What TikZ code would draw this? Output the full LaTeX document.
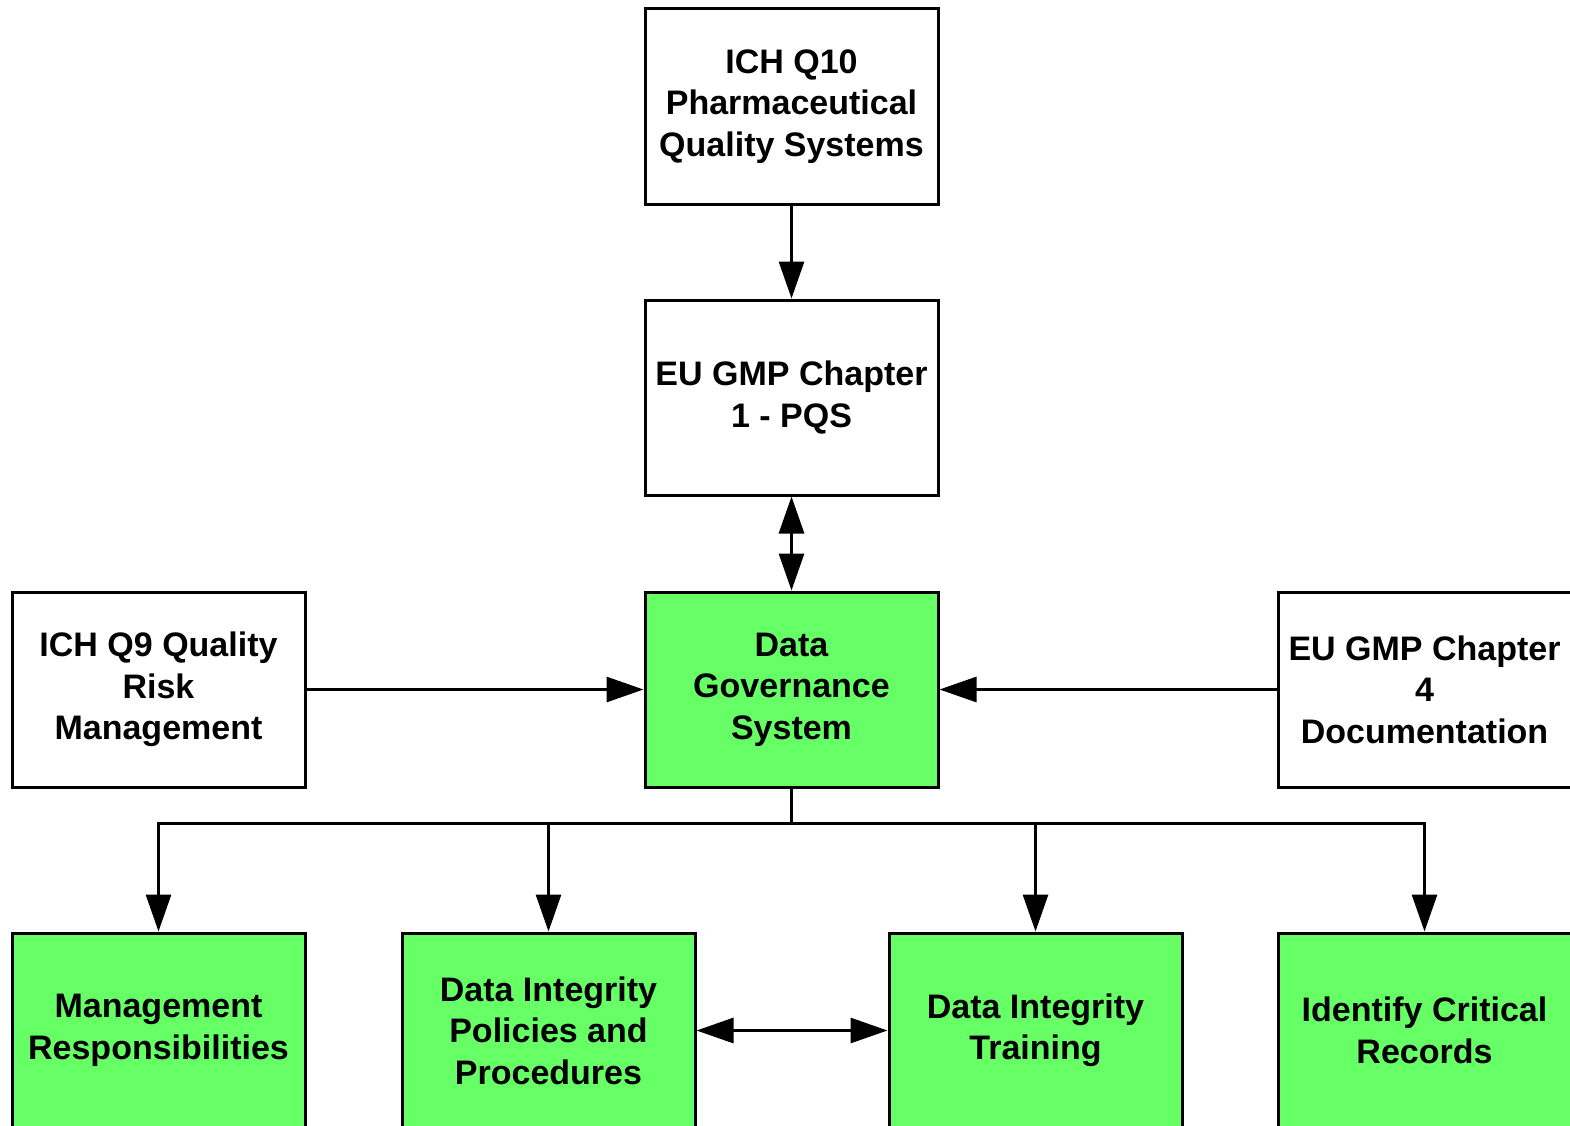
\documentclass[tikz,border=0pt]{standalone}
\usepackage{fontspec}
\setmainfont{Liberation Sans}
\usetikzlibrary{arrows.meta}
\definecolor{boxgreen}{HTML}{66FF66}
\begin{document}
\begin{tikzpicture}[x=1pt,y=-1pt,
  box/.style={draw=black,line width=3pt,rectangle,minimum width=293pt,minimum height=195pt,
    inner sep=0pt,align=center,font=\bfseries\fontsize{34}{41.5}\selectfont},
  gbox/.style={box,fill=boxgreen},
  conn/.style={line width=3pt},
  arr/.style={conn,-{Triangle[length=37pt,width=25pt]}},
  darr/.style={conn,{Triangle[length=37pt,width=25pt]}-{Triangle[length=37pt,width=25pt]}}]
\useasboundingbox (0,0) rectangle (1570,1126);
\clip (0,0) rectangle (1570,1126);
\fill[white] (0,0) rectangle (1570,1126);
\node[box] (q10) at (791.5,106.5) {ICH Q10\\Pharmaceutical\\Quality Systems};
\node[box] (ch1) at (791.5,397.5) {EU GMP Chapter\\1 - PQS};
\node[gbox] (dgs) at (791.5,689.5) {Data\\Governance\\System};
\node[box] (q9) at (158.5,689.5) {ICH Q9 Quality\\Risk\\Management};
\node[box] (ch4) at (1424.5,689.5) {EU GMP Chapter\\4\\Documentation};
\node[gbox] (mgmt) at (158.5,1030.5) {Management\\Responsibilities};
\node[gbox] (pol) at (548.5,1030.5) {Data Integrity\\Policies and\\Procedures};
\node[gbox] (trn) at (1035.5,1030.5) {Data Integrity\\Training};
\node[gbox] (rec) at (1424.5,1030.5) {Identify Critical\\Records};
\coordinate (bus) at (791.5,823);
\draw[arr] (q10.south) -- (ch1.north);
\draw[darr] (ch1.south) -- (dgs.north);
\draw[arr] (q9.east) -- (dgs.west);
\draw[arr] (ch4.west) -- (dgs.east);
\draw[conn] (dgs.south) -- (bus);
\draw[arr] (bus) -| (mgmt.north);
\draw[arr] (bus) -| (pol.north);
\draw[arr] (bus) -| (trn.north);
\draw[arr] (bus) -| (rec.north);
\draw[darr] (pol.east) -- (trn.west);
\end{tikzpicture}
\end{document}
